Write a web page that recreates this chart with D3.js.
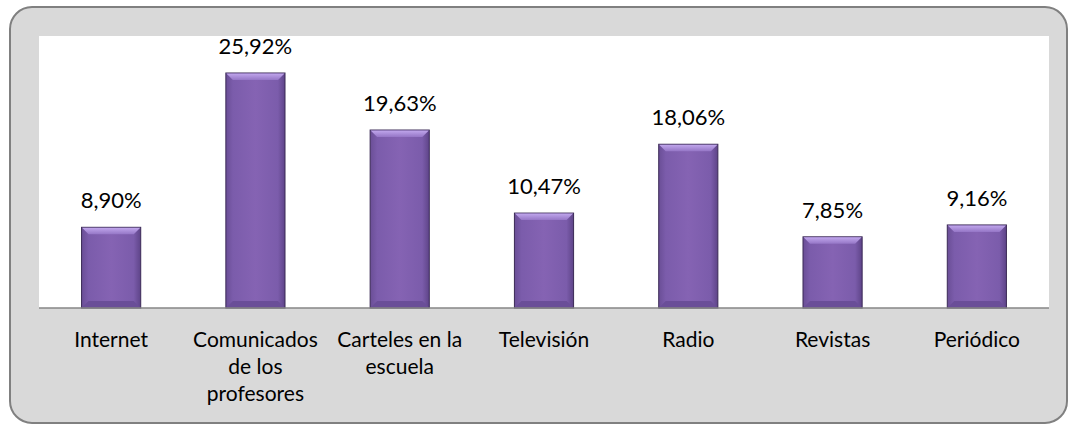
<!DOCTYPE html>
<html>
<head>
<meta charset="utf-8">
<script src="https://cdn.jsdelivr.net/npm/d3@7"></script>
<style>
  body { margin: 0; background: #fff; }
  text { font-family: Lato, "Open Sans", sans-serif; fill: #000; }
</style>
</head>
<body>
<div id="chart"></div>
<script>
const categories = ["Internet", "Comunicados de los profesores", "Carteles en la escuela", "Televisión", "Radio", "Revistas", "Periódico"];
const labelLines = [["Internet"], ["Comunicados", "de los", "profesores"], ["Carteles en la", "escuela"], ["Televisión"], ["Radio"], ["Revistas"], ["Periódico"]];
const values = [8.90, 25.92, 19.63, 10.47, 18.06, 7.85, 9.16];
const valueLabels = ["8,90%", "25,92%", "19,63%", "10,47%", "18,06%", "7,85%", "9,16%"];

const w = 1070, h = 425;
const plot = { left: 39, right: 1049, top: 36, bottom: 308 };

const svg = d3.select("#chart").append("svg")
  .attr("width", w)
  .attr("height", h);

// outer frame
svg.append("rect")
  .attr("x", 10).attr("y", 7)
  .attr("width", 1057).attr("height", 416)
  .attr("rx", 22).attr("ry", 22)
  .attr("fill", "#d9d9d9")
  .attr("stroke", "#808080")
  .attr("stroke-width", 2);

svg.append("rect")
  .attr("x", plot.left).attr("y", plot.top)
  .attr("width", plot.right - plot.left)
  .attr("height", plot.bottom - plot.top)
  .attr("fill", "#fff");

const xScale = d3.scaleBand()
  .domain(categories)
  .range([plot.left, plot.right])
  .paddingInner(0.59)
  .paddingOuter(0.295);

const yScale = d3.scaleLinear()
  .domain([0, 30])
  .range([plot.bottom, plot.top]);

const defs = svg.append("defs");
const grad = defs.append("linearGradient")
  .attr("id", "barGrad")
  .attr("x1", "0").attr("x2", "1").attr("y1", "0").attr("y2", "0");
grad.append("stop").attr("offset", "0").attr("stop-color", "#6a4e96");
grad.append("stop").attr("offset", "0.12").attr("stop-color", "#7b5cab");
grad.append("stop").attr("offset", "0.5").attr("stop-color", "#8563b3");
grad.append("stop").attr("offset", "0.88").attr("stop-color", "#7b5cab");
grad.append("stop").attr("offset", "1").attr("stop-color", "#5e4488");

const bevGrad = defs.append("linearGradient")
  .attr("id", "bevGrad")
  .attr("x1", "0").attr("x2", "0").attr("y1", "0").attr("y2", "1");
bevGrad.append("stop").attr("offset", "0").attr("stop-color", "#c0a6ec");
bevGrad.append("stop").attr("offset", "1").attr("stop-color", "#9576c6");

const bars = svg.selectAll("g.bar")
  .data(values)
  .enter()
  .append("g")
  .attr("class", "bar");

const bw = xScale.bandwidth();
const bev = 7;

bars.append("rect")
  .attr("x", (d, i) => xScale(categories[i]))
  .attr("y", (d) => yScale(d))
  .attr("width", bw)
  .attr("height", (d) => yScale(0) - yScale(d))
  .attr("fill", "url(#barGrad)")
  .attr("stroke", "#3b2a56")
  .attr("stroke-width", 1);

// top bevel
bars.append("path")
  .attr("d", (d, i) => {
    const x0 = xScale(categories[i]), y0 = yScale(d);
    return `M${x0 + 0.5},${y0 + 0.5} L${x0 + bw - 0.5},${y0 + 0.5} L${x0 + bw - bev},${y0 + bev} L${x0 + bev},${y0 + bev} Z`;
  })
  .attr("fill", "url(#bevGrad)");

// bottom bevel shade
bars.append("path")
  .attr("d", (d, i) => {
    const x0 = xScale(categories[i]), y1 = yScale(0);
    return `M${x0 + 0.5},${y1 - 0.5} L${x0 + bw - 0.5},${y1 - 0.5} L${x0 + bw - bev},${y1 - bev} L${x0 + bev},${y1 - bev} Z`;
  })
  .attr("fill", "#6a4e98");

bars.append("text")
  .attr("x", (d, i) => xScale(categories[i]) + bw / 2)
  .attr("y", (d) => yScale(d) - 19)
  .attr("text-anchor", "middle")
  .attr("font-size", "22px")
  .text((d, i) => valueLabels[i]);

// baseline
svg.append("line")
  .attr("x1", plot.left).attr("x2", plot.right)
  .attr("y1", yScale(0)).attr("y2", yScale(0))
  .attr("stroke", "#868686")
  .attr("stroke-width", 1.5);

const xAxisLabels = svg.selectAll("text.cat")
  .data(labelLines)
  .enter()
  .append("text")
  .attr("class", "cat")
  .attr("text-anchor", "middle")
  .attr("font-size", "21px");

xAxisLabels.each(function (lines, i) {
  const cx = xScale(categories[i]) + bw / 2;
  d3.select(this).selectAll("tspan")
    .data(lines)
    .enter()
    .append("tspan")
    .attr("x", cx)
    .attr("y", (l, j) => 347 + j * 27)
    .text((l) => l);
});
</script>
</body>
</html>
